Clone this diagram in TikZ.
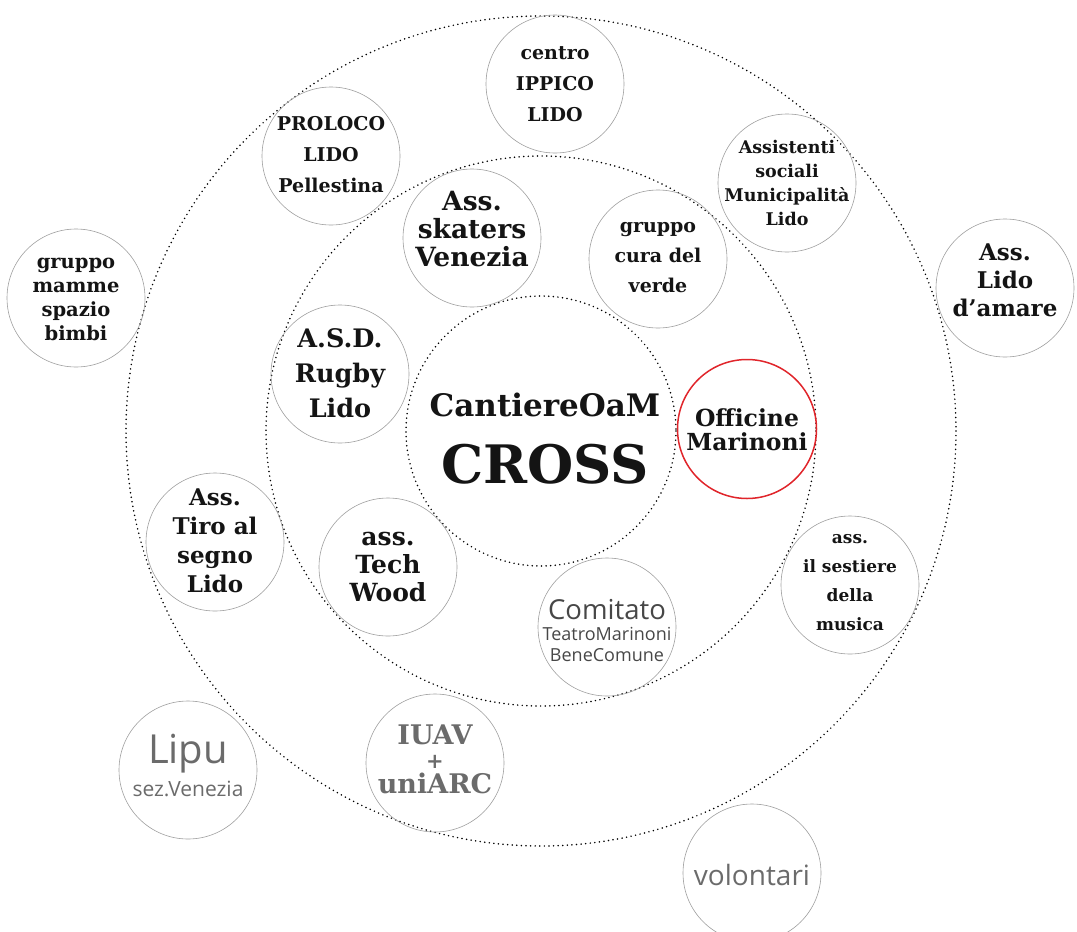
\documentclass[tikz,border=0pt]{standalone}
\usepackage{fontspec}
\setmainfont{DejaVu Serif}
\newfontfamily\grigio{Open Sans}
\newcommand{\corpo}[2]{\fontsize{#1}{#2}\selectfont}
\definecolor{rosso}{HTML}{E0252B}
\tikzset{
	anello/.style={line width=1.7pt, line cap=round, dash pattern=on 0pt off 4.6pt},
	bordo/.style={draw=black!38, line width=0.6pt},
	ente/.style={align=center, inner sep=0pt, text=black!92},
	chiaro/.style={align=center, inner sep=0pt, text=black!58},
}

\begin{document}
\begin{tikzpicture}[x=1pt, y=-1pt]
				\useasboundingbox (0,0) rectangle (1077,932);

				\coordinate (centro) at (541,431);
				\draw[anello] (centro) circle (415);
				\draw[anello] (centro) circle (275);
				\draw[anello] (centro) circle (135);

				\node[ente, font=\corpo{53}{67}\bfseries] (cross) at (545,439)
					{{\fontsize{31}{67}\selectfont CantiereOaM}\\CROSS};

				\node[ente, font=\corpo{19.5}{24}\bfseries] (mamme) at (76,299)
					{gruppo\\mamme\\spazio\\bimbi};
				\node[ente, font=\corpo{19}{31}\bfseries] (proloco) at (331,155)
					{PROLOCO\\LIDO\\Pellestina};
				\node[ente, font=\corpo{19}{31}\bfseries] (ippico) at (555,84)
					{centro\\IPPICO\\LIDO};
				\node[ente, font=\corpo{17.5}{24}\bfseries] (assistenti) at (787,183)
					{Assistenti\\sociali\\Municipalità\\Lido};
				\node[ente, font=\corpo{23}{28}\bfseries] (lidoamare) at (1005,280)
					{Ass.\\Lido\\d’amare};
				\node[ente, font=\corpo{26.5}{28}\bfseries] (skaters) at (472,229)
					{Ass.\\skaters\\Venezia};
				\node[ente, font=\corpo{19}{30}\bfseries] (verde) at (658,258)
					{gruppo\\cura del\\verde};
				\node[ente, font=\corpo{25.5}{35}\bfseries] (rugby) at (340,373)
					{A.S.D.\\Rugby\\Lido};
				\node[ente, font=\corpo{23.5}{24}\bfseries] (officine) at (747,430)
					{Officine\\Marinoni};
				\node[ente, font=\corpo{23}{29}\bfseries] (tiro) at (215,541)
					{Ass.\\Tiro al\\segno\\Lido};
				\node[ente, font=\corpo{25}{28}\bfseries] (techwood) at (388,567)
					{ass.\\Tech\\Wood};
				\node[ente, font=\corpo{17}{29}\bfseries] (sestiere) at (850,583)
					{ass.\\il sestiere\\della\\musica};
				\node[chiaro, font=\corpo{27}{24.5}\bfseries] (iuav) at (435,759)
					{IUAV\\{\fontsize{21}{24.5}\selectfont +}\\uniARC};
				\node[chiaro, font=\grigio\corpo{40}{33}] (lipu) at (188,765)
					{Lipu\\{\fontsize{21}{33}\selectfont sez.Venezia}};
				\node[chiaro, text=black!72, font=\grigio\corpo{18}{21}] (comitato) at (607,630)
					{{\fontsize{27.5}{21}\selectfont Comitato}\\TeatroMarinoni\\BeneComune};
				\node[chiaro, font=\grigio\corpo{28}{30}] (volontari) at (752,875)
					{volontari};

				\foreach \ente/\dy in {mamme/1, proloco/-1, ippico/0, assistenti/0,
					lidoamare/-8, skaters/-9, verde/-1, rugby/-1, tiro/-1, techwood/0,
					sestiere/-2, iuav/-4, lipu/-5, comitato/3, volontari/2}
				{
					\draw[bordo] ([yshift=\dy]\ente.center) circle (69);
				}
				\draw[rosso, line width=1.5pt] ([yshift=1]officine.center) circle (69.5);
\end{tikzpicture}
\end{document}
